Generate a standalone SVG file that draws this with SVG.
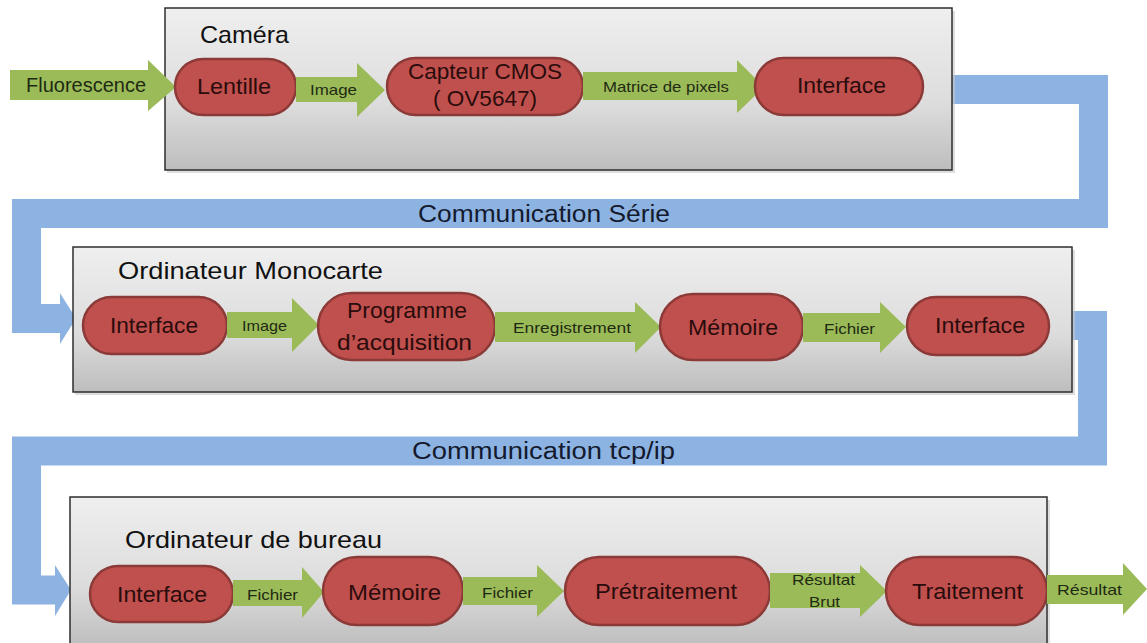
<svg xmlns="http://www.w3.org/2000/svg" width="1147" height="643" viewBox="0 0 1147 643">
<defs>
<linearGradient id="boxg" x1="0" y1="0" x2="0" y2="1">
<stop offset="0" stop-color="#efefef"/>
<stop offset="0.6" stop-color="#dcdcdc"/>
<stop offset="1" stop-color="#bdbdbd"/>
</linearGradient>
<style>
.box{fill:url(#boxg);stroke:#2e2e2e;stroke-width:1.5}
.shadow{fill:#c8c8c8;opacity:0.6}
.pill{fill:#c0504d;stroke:#8c3a38;stroke-width:2.5}
.garrow{fill:#9bbb59}
.band{fill:none;stroke:#8db3e2;stroke-width:29;stroke-linejoin:miter}
.bhead{fill:#8db3e2}
.title{font-family:"Liberation Sans",Arial,sans-serif;font-size:24px;fill:#111}
.ptext{font-family:"Liberation Sans",Arial,sans-serif;font-size:22px;fill:#2a0c0c}
.atext{font-family:"Liberation Sans",Arial,sans-serif;font-size:15px;fill:#1f2a12}
.ctext{font-family:"Liberation Sans",Arial,sans-serif;font-size:23px;fill:#141a2e}
</style>
</defs>
<rect width="1147" height="643" fill="#ffffff"/>

<g id="connectors">
<polyline class="band" points="952,89.5 1093.5,89.5 1093.5,213.5 26.5,213.5 26.5,318.5 61,318.5"/>
<polygon class="bhead" points="60,293 76,318.5 60,344"/>
<polyline class="band" points="1072,325.5 1092.5,325.5 1092.5,451 26.5,451 26.5,590 56,590"/>
<polygon class="bhead" points="55,565 71,590 55,616"/>
<text class="ctext" x="418" y="222" textLength="252" lengthAdjust="spacingAndGlyphs">Communication Série</text>
<text class="ctext" x="412" y="459" textLength="263" lengthAdjust="spacingAndGlyphs">Communication tcp/ip</text>
</g>

<g id="camera">
<rect class="shadow" x="167" y="11" width="788" height="162"/>
<rect class="box" x="165" y="8" width="787" height="162"/>
<text class="title" x="200" y="43" textLength="89" lengthAdjust="spacingAndGlyphs">Caméra</text>
</g>

<g id="monocarte">
<rect class="shadow" x="75" y="250" width="1000" height="145"/>
<rect class="box" x="73" y="247" width="999" height="145"/>
<text class="title" x="118" y="279" textLength="265" lengthAdjust="spacingAndGlyphs">Ordinateur Monocarte</text>
</g>

<g id="bureau">
<rect class="shadow" x="72" y="500" width="978" height="150"/>
<rect class="box" x="70" y="497" width="977" height="150"/>
<text class="title" x="125" y="548" textLength="257" lengthAdjust="spacingAndGlyphs">Ordinateur de bureau</text>
</g>

<!-- Row 1 -->
<g id="a-fluorescence">
<polygon class="garrow" points="10,70 148,70 148,60 176,87 148,111 148,100 10,100"/>
<text class="ptext" style="font-size:20px;fill:#1f2a12" x="26" y="92" textLength="120" lengthAdjust="spacingAndGlyphs">Fluorescence</text>
</g>
<g id="lentille">
<rect class="pill" x="175" y="59" width="121" height="56" rx="28"/>
<text class="ptext" x="197" y="94" textLength="74" lengthAdjust="spacingAndGlyphs">Lentille</text>
</g>
<g id="a-image1">
<polygon class="garrow" points="296,77 357,77 357,63 385,90 357,117 357,102 296,102"/>
<text class="atext" x="310" y="95" textLength="47" lengthAdjust="spacingAndGlyphs">Image</text>
</g>
<g id="capteur">
<rect class="pill" x="387" y="58" width="196" height="57" rx="28.5"/>
<text class="ptext" x="408" y="79" textLength="154" lengthAdjust="spacingAndGlyphs">Capteur  CMOS</text>
<text class="ptext" x="433" y="106" textLength="104" lengthAdjust="spacingAndGlyphs">( OV5647)</text>
</g>
<g id="a-matrice">
<polygon class="garrow" points="583,72 737,72 737,60 764,87 737,113 737,100 583,100"/>
<text class="atext" x="603" y="92" textLength="126" lengthAdjust="spacingAndGlyphs">Matrice de pixels</text>
</g>
<g id="interface1">
<rect class="pill" x="755" y="58" width="168" height="57" rx="28.5"/>
<text class="ptext" x="797" y="93" textLength="89" lengthAdjust="spacingAndGlyphs">Interface</text>
</g>

<!-- Row 2 -->
<g id="interface2">
<rect class="pill" x="83" y="297" width="144" height="57" rx="28.5"/>
<text class="ptext" x="110" y="333" textLength="88" lengthAdjust="spacingAndGlyphs">Interface</text>
</g>
<g id="a-image2">
<polygon class="garrow" points="227,312 292,312 292,298 319,325 292,352 292,338 227,338"/>
<text class="atext" x="242" y="331" textLength="45" lengthAdjust="spacingAndGlyphs">Image</text>
</g>
<g id="programme">
<rect class="pill" x="318" y="293" width="177" height="67" rx="33.5"/>
<text class="ptext" x="347" y="318" textLength="120" lengthAdjust="spacingAndGlyphs">Programme</text>
<text class="ptext" x="337" y="350" textLength="135" lengthAdjust="spacingAndGlyphs">d’acquisition</text>
</g>
<g id="a-enreg">
<polygon class="garrow" points="495,312 635,312 635,302 661,327 635,353 635,342 495,342"/>
<text class="atext" x="513" y="333" textLength="118" lengthAdjust="spacingAndGlyphs">Enregistrement</text>
</g>
<g id="memoire1">
<rect class="pill" x="660" y="294" width="143" height="66" rx="33"/>
<text class="ptext" x="688" y="335" textLength="90" lengthAdjust="spacingAndGlyphs">Mémoire</text>
</g>
<g id="a-fichier1">
<polygon class="garrow" points="803,313 880,313 880,302 906,327 880,353 880,342 803,342"/>
<text class="atext" x="824" y="334" textLength="51" lengthAdjust="spacingAndGlyphs">Fichier</text>
</g>
<g id="interface3">
<rect class="pill" x="907" y="297" width="142" height="58" rx="29"/>
<text class="ptext" x="935" y="333" textLength="90" lengthAdjust="spacingAndGlyphs">Interface</text>
</g>

<!-- Row 3 -->
<g id="interface4">
<rect class="pill" x="90" y="566" width="143" height="56" rx="28"/>
<text class="ptext" x="117" y="602" textLength="90" lengthAdjust="spacingAndGlyphs">Interface</text>
</g>
<g id="a-fichier2">
<polygon class="garrow" points="233,580 302,580 302,567 324,592 302,618 302,606 233,606"/>
<text class="atext" x="247" y="600" textLength="51" lengthAdjust="spacingAndGlyphs">Fichier</text>
</g>
<g id="memoire2">
<rect class="pill" x="323" y="557" width="140" height="68" rx="34"/>
<text class="ptext" x="348" y="600" textLength="93" lengthAdjust="spacingAndGlyphs">Mémoire</text>
</g>
<g id="a-fichier3">
<polygon class="garrow" points="463,577 537,577 537,565 564,591 537,617 537,605 463,605"/>
<text class="atext" x="482" y="598" textLength="51" lengthAdjust="spacingAndGlyphs">Fichier</text>
</g>
<g id="pretraitement">
<rect class="pill" x="565" y="557" width="205" height="68" rx="34"/>
<text class="ptext" x="595" y="599" textLength="142" lengthAdjust="spacingAndGlyphs">Prétraitement</text>
</g>
<g id="a-brut">
<polygon class="garrow" points="770,573 860,573 860,565 887,591 860,617 860,608 770,608"/>
<text class="atext" x="792" y="585" textLength="63" lengthAdjust="spacingAndGlyphs">Résultat</text>
<text class="atext" x="809" y="607" textLength="31" lengthAdjust="spacingAndGlyphs">Brut</text>
</g>
<g id="traitement">
<rect class="pill" x="886" y="557" width="161" height="68" rx="34"/>
<text class="ptext" x="912" y="599" textLength="111" lengthAdjust="spacingAndGlyphs">Traitement</text>
</g>
<g id="a-resultat">
<polygon class="garrow" points="1047,575 1123,575 1123,563 1147,589 1123,615 1123,604 1047,604"/>
<text class="atext" x="1057" y="595" textLength="65" lengthAdjust="spacingAndGlyphs">Résultat</text>
</g>
</svg>
